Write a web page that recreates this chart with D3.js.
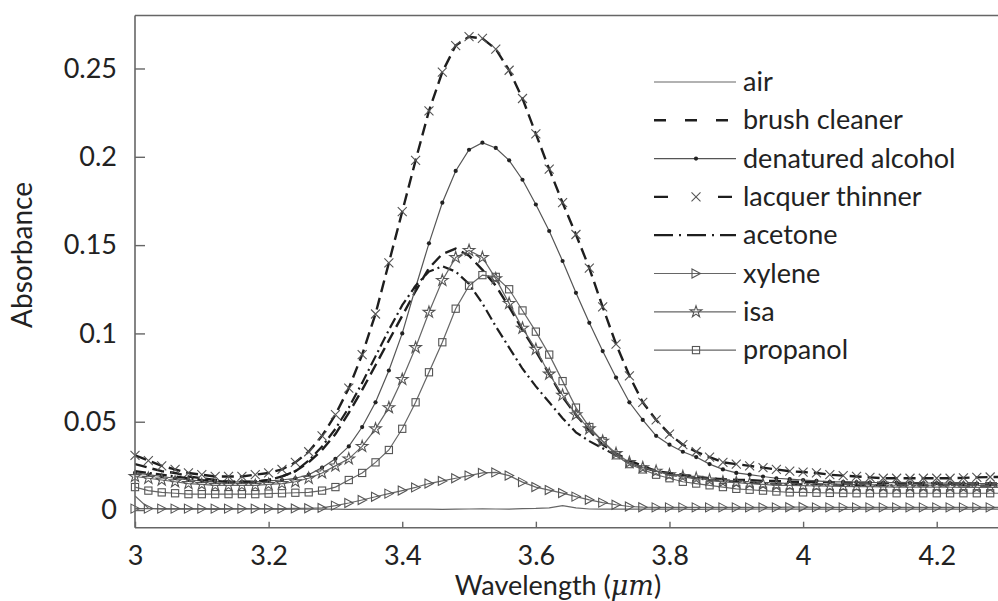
<!DOCTYPE html>
<html><head><meta charset="utf-8">
<script src="https://cdn.jsdelivr.net/npm/d3@7"></script>
<style>
body{margin:0;background:#fff}
svg{display:block}
text{font-family:Lato,'Open Sans',sans-serif;fill:#222}
</style>
</head><body><svg id="c" width="998" height="601"></svg>
<script>
// ---------------- data ----------------
const wavelengths=[3.00,3.02,3.04,3.06,3.08,3.10,3.12,3.14,3.16,3.18,
3.20,3.22,3.24,3.26,3.28,3.30,3.32,3.34,3.36,3.38,
3.40,3.42,3.44,3.46,3.48,3.50,3.52,3.54,3.56,3.58,
3.60,3.62,3.64,3.66,3.68,3.70,3.72,3.74,3.76,3.78,
3.80,3.82,3.84,3.86,3.88,3.90,3.92,3.94,3.96,3.98,
4.00,4.02,4.04,4.06,4.08,4.10,4.12,4.14,4.16,4.18,
4.20,4.22,4.24,4.26,4.28,4.30];

const air=[.008,.001,.0005,.0005,.0006,.0005,.0004,.0005,.0005,.0006,
.0005,.0004,.0005,.0006,.0005,.0005,.0004,.0005,.0005,.0006,
.0005,.0006,.0005,.0004,.0005,.0006,.0007,.0006,.0005,.0008,
.0009,.0012,.0025,.0012,.0006,.0005,.0005,.0005,.0005,.0005,
.0005,.0005,.0004,.0005,.0005,.0005,.0005,.0006,.0005,.0005,
.0005,.0005,.0005,.0004,.0005,.0005,.0005,.0005,.0005,.0005,
.0005,.0005,.0005,.0005,.0005,.0005];

const brushCleaner=[.026,.024,.022,.021,.019,.018,.017,.016,.016,.016,
.017,.019,.022,.027,.034,.043,.055,.068,.082,.096,
.110,.124,.137,.145,.148,.144,.136,.127,.115,.102,
.090,.077,.064,.054,.045,.037,.032,.028,.025,.022,
.021,.020,.019,.018,.0175,.017,.017,.0165,.0165,.016,
.016,.016,.0158,.0156,.0155,.0155,.0154,.0153,.0152,.0152,
.0151,.015,.015,.015,.015,.015];

const denaturedAlcohol=[.021,.020,.019,.018,.017,.0165,.016,.016,.016,.016,
.0165,.017,.018,.020,.024,.029,.036,.047,.061,.079,
.100,.126,.151,.174,.192,.204,.208,.205,.198,.187,
.173,.158,.141,.123,.106,.090,.075,.061,.051,.042,
.037,.033,.030,.026,.023,.021,.020,.019,.018,.0175,
.017,.0165,.016,.016,.0158,.0156,.0155,.0155,.0154,.0153,
.0152,.0152,.0151,.015,.015,.015];

const lacquerThinner=[.031,.028,.025,.023,.021,.020,.019,.019,.019,.020,
.021,.023,.027,.033,.042,.054,.069,.088,.111,.140,
.169,.198,.226,.248,.263,.268,.267,.261,.249,.233,
.213,.193,.174,.156,.137,.115,.094,.076,.061,.051,
.043,.037,.033,.030,.027,.026,.025,.024,.023,.022,
.0215,.021,.020,.0195,.019,.0185,.018,.018,.018,.018,
.018,.018,.0182,.0185,.0187,.0187];

const acetone=[.022,.021,.020,.019,.018,.017,.0165,.016,.016,.016,
.017,.019,.022,.028,.036,.046,.058,.072,.087,.102,
.116,.127,.135,.138,.135,.128,.117,.104,.092,.080,
.070,.061,.052,.044,.039,.035,.031,.027,.024,.022,
.020,.019,.018,.017,.0165,.016,.0155,.015,.015,.0148,
.0146,.0145,.0144,.0143,.0142,.0141,.014,.014,.014,.014,
.014,.014,.0139,.0138,.0138,.0138];

const xylene=[.0008,.0008,.0008,.0008,.0008,.0008,.0008,.0008,.0008,.0008,
.0008,.0008,.0009,.001,.0012,.0025,.004,.0057,.0075,.0093,
.011,.0128,.015,.0165,.018,.0195,.021,.0213,.0195,.0158,
.013,.0113,.0096,.0076,.0058,.0042,.003,.002,.0016,.0015,
.0015,.0015,.0015,.0015,.0015,.0015,.0015,.0015,.0015,.0016,
.0017,.0015,.0015,.0015,.0015,.0015,.0015,.0015,.0015,.0015,
.0015,.0015,.0015,.0015,.0015,.0015];

const isa=[.019,.018,.017,.016,.015,.0145,.014,.014,.014,.014,
.0145,.015,.016,.018,.021,.025,.029,.036,.046,.058,
.074,.092,.112,.130,.143,.147,.143,.131,.117,.103,
.091,.077,.065,.054,.046,.039,.032,.027,.024,.022,
.020,.019,.018,.017,.016,.0155,.015,.0145,.014,.014,
.0138,.0136,.0135,.0134,.0133,.0132,.0131,.013,.013,.013,
.013,.0129,.0128,.0128,.0128,.0128];

const propanol=[.013,.011,.010,.0095,.009,.009,.009,.009,.009,.009,
.0093,.0095,.0098,.010,.011,.013,.017,.021,.027,.034,
.046,.061,.078,.095,.114,.127,.133,.132,.125,.113,
.101,.088,.073,.058,.047,.039,.031,.026,.023,.020,
.018,.016,.015,.014,.013,.012,.0115,.011,.0105,.010,
.010,.0098,.0097,.0096,.0095,.0095,.0095,.0095,.0095,.0095,
.0095,.0095,.0095,.0095,.0095,.0095];

const seriesNames=["air","brush cleaner","denatured alcohol","lacquer thinner","acetone","xylene","isa","propanol"];
const seriesValues=[air,brushCleaner,denaturedAlcohol,lacquerThinner,acetone,xylene,isa,propanol];
const xTicks=[3,3.2,3.4,3.6,3.8,4,4.2];
const xTickLabels=["3","3.2","3.4","3.6","3.8","4","4.2"];
const yTicks=[0,0.05,0.1,0.15,0.2,0.25];
const yTickLabels=["0","0.05","0.1","0.15","0.2","0.25"];

// ---------------- styles ----------------
const styles=[
 {w:1.2,c:"#666",dash:null,m:null},
 {w:2.4,c:"#1e1e1e",dash:"12,6",m:null,ldash:"12,19"},
 {w:1.2,c:"#555",dash:null,m:"dot"},
 {w:2.4,c:"#1e1e1e",dash:"12,6",m:"x",ldash:"14,50"},
 {w:2.2,c:"#1e1e1e",dash:"11,4,2,4",m:null,ldash:"19,6,2,6"},
 {w:1.2,c:"#666",dash:null,m:"tri"},
 {w:1.2,c:"#666",dash:null,m:"star"},
 {w:1.2,c:"#666",dash:null,m:"sq"}
];

const svg=d3.select("#c");
const L=135,R=998,T=15.5,B=527.7;
const x=d3.scaleLinear().domain([3,4.3]).range([135,135+1.3*668.1]);
const y=d3.scaleLinear().domain([-0.01,0.28]).range([B,T]);

svg.append("defs").append("clipPath").attr("id","clip")
 .append("rect").attr("x",L).attr("y",T).attr("width",R-L).attr("height",B-T);

const starPath=d3.symbol(d3.symbolStar,42)();
function drawMarker(g,type,px,py){
  if(type==="dot") g.append("circle").attr("cx",px).attr("cy",py).attr("r",2.1).attr("fill","#222");
  else if(type==="x") g.append("path").attr("d",`M${px-4.5},${py-4.5}L${px+4.5},${py+4.5}M${px-4.5},${py+4.5}L${px+4.5},${py-4.5}`)
       .attr("stroke","#555").attr("stroke-width",1.1).attr("fill","none");
  else if(type==="tri") g.append("path").attr("d",`M${px-4},${py-4.5}L${px+4.5},${py}L${px-4},${py+4.5}Z`)
       .attr("stroke","#555").attr("stroke-width",1.1).attr("fill","none");
  else if(type==="star") g.append("path").attr("d",starPath).attr("transform",`translate(${px},${py})`)
       .attr("stroke","#555").attr("stroke-width",1.1).attr("fill","none");
  else if(type==="sq") g.append("rect").attr("x",px-3.6).attr("y",py-3.6).attr("width",7.2).attr("height",7.2)
       .attr("stroke","#555").attr("stroke-width",1.1).attr("fill","none");
}

const line=d3.line().x(d=>x(d[0])).y(d=>y(d[1]));
const plot=svg.append("g");
seriesValues.forEach((vals,i)=>{
  const st=styles[i];
  const pts=wavelengths.map((w,k)=>[w,vals[k]]);
  plot.append("path").attr("d",line(pts)).attr("clip-path","url(#clip)")
    .attr("fill","none").attr("stroke",st.c).attr("stroke-width",st.w)
    .attr("stroke-dasharray",st.dash);
  if(st.m){
    const mg=plot.append("g");
    pts.forEach(p=>{ if(x(p[0])<=R+5) drawMarker(mg,st.m,x(p[0]),y(p[1])); });
  }
});

// axes
const ax=svg.append("g").attr("transform",`translate(0,${B})`)
 .call(d3.axisBottom(x).tickValues(xTicks).tickFormat((d,i)=>xTickLabels[i]).tickSize(-6).tickSizeOuter(0).tickPadding(18));
const ay=svg.append("g").attr("transform",`translate(${L},0)`)
 .call(d3.axisLeft(y).tickValues(yTicks).tickFormat((d,i)=>yTickLabels[i]).tickSize(-10).tickSizeOuter(0).tickPadding(18));
[ax,ay].forEach(a=>{
  a.select(".domain").attr("stroke","#666").attr("stroke-width",1.6);
  a.selectAll(".tick line").attr("stroke","#666").attr("stroke-width",1.4);
  a.selectAll(".tick text").attr("font-family","Lato").attr("font-size",27).attr("fill","#222");
});
ax.select(".domain").attr("d",`M${L},0H${R}`);
ay.select(".domain").attr("d",`M0,${B}V${T}`);
svg.append("line").attr("x1",L).attr("x2",R).attr("y1",T).attr("y2",T).attr("stroke","#666").attr("stroke-width",1.6);

// axis titles
const xt=svg.append("text").attr("x",558).attr("y",595).attr("text-anchor","middle").attr("font-size",27);
xt.append("tspan").text("Wavelength (");
xt.append("tspan").attr("font-family","'DejaVu Serif','Liberation Serif',serif").attr("font-style","italic").text("μm");
xt.append("tspan").text(")");
svg.append("text").attr("transform","translate(32,255) rotate(-90)").attr("text-anchor","middle").attr("font-size",28).text("Absorbance");

// legend
const lg=svg.append("g");
seriesNames.forEach((name,i)=>{
  const st=styles[i];
  const cy=82+i*38.3;
  lg.append("line").attr("x1",654).attr("x2",736).attr("y1",cy).attr("y2",cy)
    .attr("stroke",st.c).attr("stroke-width",st.w).attr("stroke-dasharray",st.ldash||null);
  if(st.m) drawMarker(lg,st.m,696,cy);
  lg.append("text").attr("x",743).attr("y",cy+9).attr("font-size",27).text(name);
});
</script></body></html>
